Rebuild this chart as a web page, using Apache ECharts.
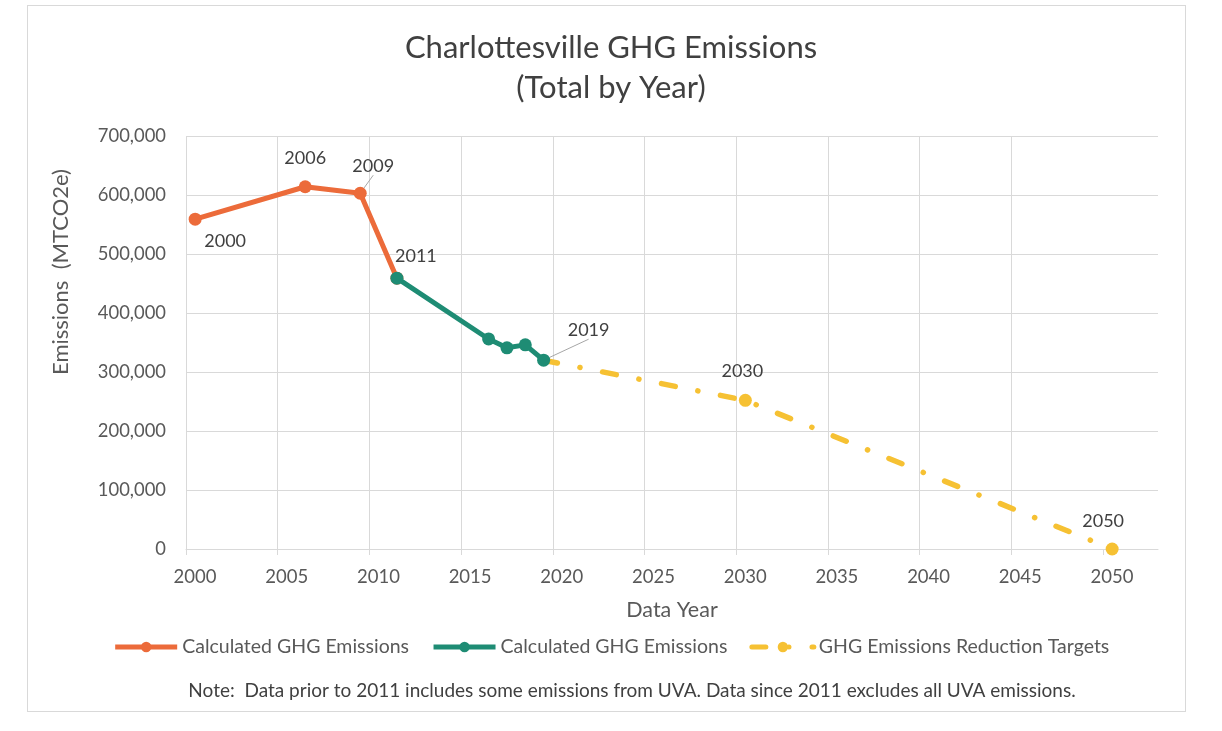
<!DOCTYPE html>
<html>
<head>
<meta charset="utf-8">
<script src="https://cdn.jsdelivr.net/npm/echarts@6/dist/echarts.min.js"></script>
<style>
html,body{margin:0;padding:0;background:#fff;}
#frame{position:absolute;left:27px;top:5px;width:1159px;height:707px;border:1px solid #d9d9d9;box-sizing:border-box;}
#chart{position:absolute;left:0;top:0;width:1222px;height:731px;}
</style>
</head>
<body>
<div id="frame"></div>
<div id="chart"></div>
<script>
// ---- data ----
const titleText = 'Charlottesville GHG Emissions\n(Total by Year)';
const noteText = 'Note:  Data prior to 2011 includes some emissions from UVA. Data since 2011 excludes all UVA emissions.';
const seriesNames = ['Calculated GHG Emissions', 'Calculated GHG Emissions\u200b', 'GHG Emissions Reduction Targets'];

// x positions (years plotted at mid-year), values in MTCO2e
const beforeX = [2000.5, 2006.5, 2009.5, 2011.5];
const beforeY = [559000, 614000, 603000, 459000];
const beforeLabels = ['2000', '2006', '2009', '2011'];

const afterX = [2011.5, 2016.5, 2017.5, 2018.5, 2019.5];
const afterY = [459000, 356000, 341000, 346000, 320000];
const afterLabels = ['', '', '', '', '2019'];

const targetX = [2019.5, 2030.5, 2050.5];
const targetY = [320000, 252000, 0];
const targetLabels = ['', '2030', '2050'];

const yTicks = [0, 100000, 200000, 300000, 400000, 500000, 600000, 700000];
const xTicks = [2000, 2005, 2010, 2015, 2020, 2025, 2030, 2035, 2040, 2045, 2050];

// ---- styles ----
const ORANGE = '#EC6B3A', GREEN = '#1E8C74', GOLD = '#F6C133';
const TXT = '#595959';
const FONT = 'Lato, "Noto Sans", sans-serif';
const labelOffsets = {
  '2000': [30, 22], '2006': [0, -29], '2009': [13, -27], '2011': [19, -22],
  '2019': [45, -30], '2030': [-3, -29], '2050': [-9, -28]
};
const leaderLabels = {'2009': true, '2019': true};

function buildData(xs, ys, labels) {
  return xs.map((x, i) => {
    const item = { value: [x, ys[i]] };
    const t = labels[i];
    if (t) {
      item.label = { show: true, formatter: t, position: 'inside', offset: labelOffsets[t] };
      if (leaderLabels[t]) item.labelLine = { show: true, lineStyle: { color: '#a6a6a6', width: 1 } };
    }
    return item;
  });
}

const labelBase = { show: false, color: '#404040', fontSize: 18, fontFamily: FONT };

const chart = echarts.init(document.getElementById('chart'));
chart.setOption({
  backgroundColor: 'transparent',
  animation: false,
  textStyle: { fontFamily: FONT },
  title: [{
    text: titleText, left: 'center', top: 23,
    textStyle: { fontSize: 31, fontWeight: 'normal', color: '#404040', lineHeight: 40, fontFamily: FONT }
  }, {
    text: noteText, left: 627, textAlign: 'center', top: 676,
    textStyle: { fontSize: 19, fontWeight: 'normal', color: '#404040', fontFamily: FONT }
  }],
  graphic: [{
    type: 'text', x: 50, y: 272, rotation: Math.PI / 2,
    style: { text: 'Emissions  (MTCO2e)', fill: TXT, font: '22px ' + FONT, textAlign: 'center', textVerticalAlign: 'top' }
  }],
  legend: {
    bottom: 69, left: 'center', itemWidth: 62, itemHeight: 13, itemGap: 22,
    lineStyle: { width: 5 },
    textStyle: { color: TXT, fontSize: 19.5, fontFamily: FONT },
    data: [{name: seriesNames[0]}, {name: seriesNames[1]}, {name: seriesNames[2]}]
  },
  grid: { left: 186, right: 64, top: 136, bottom: 182 },
  xAxis: {
    type: 'value', min: 2000, max: 2053, interval: 5,
    name: 'Data Year', nameLocation: 'middle', nameGap: 50,
    nameTextStyle: { color: TXT, fontSize: 21.5, fontFamily: FONT },
    axisLine: { show: true, lineStyle: { color: '#d9d9d9', width: 1 } },
    axisTick: { show: true, length: 6, customValues: xTicks, lineStyle: { color: '#d9d9d9' } },
    axisLabel: { color: TXT, fontSize: 18.5, margin: 19, fontFamily: FONT, padding: [0, 0, 0, 18],
      customValues: xTicks, formatter: v => String(v) },
    splitLine: { show: true, showMaxLine: false, lineStyle: { color: '#d9d9d9', width: 1 } }
  },
  yAxis: {
    type: 'value', min: yTicks[0], max: yTicks[yTicks.length - 1], interval: 100000,
    axisLine: { show: false }, axisTick: { show: false },
    axisLabel: { color: TXT, fontSize: 18.4, margin: 20, fontFamily: FONT,
      formatter: v => v.toLocaleString('en-US') },
    splitLine: { lineStyle: { color: '#d9d9d9', width: 1 } }
  },
  series: [{
    name: seriesNames[0], type: 'line', data: buildData(beforeX, beforeY, beforeLabels),
    symbol: 'circle', symbolSize: 13, color: ORANGE,
    lineStyle: { width: 5, color: ORANGE }, itemStyle: { color: ORANGE },
    label: labelBase, z: 3
  }, {
    name: seriesNames[1], type: 'line', data: buildData(afterX, afterY, afterLabels),
    symbol: 'circle', symbolSize: 13, color: GREEN,
    lineStyle: { width: 5, color: GREEN }, itemStyle: { color: GREEN },
    label: labelBase, z: 4
  }, {
    name: seriesNames[2], type: 'line', data: buildData(targetX, targetY, targetLabels),
    symbol: (v, p) => p.dataIndex === 0 ? 'none' : 'circle', symbolSize: 13, color: GOLD,
    lineStyle: { width: 5.5, color: GOLD, type: [14, 23, 0.1, 23], cap: 'round' }, itemStyle: { color: GOLD },
    label: labelBase, z: 2
  }]
});
</script>
</body>
</html>
